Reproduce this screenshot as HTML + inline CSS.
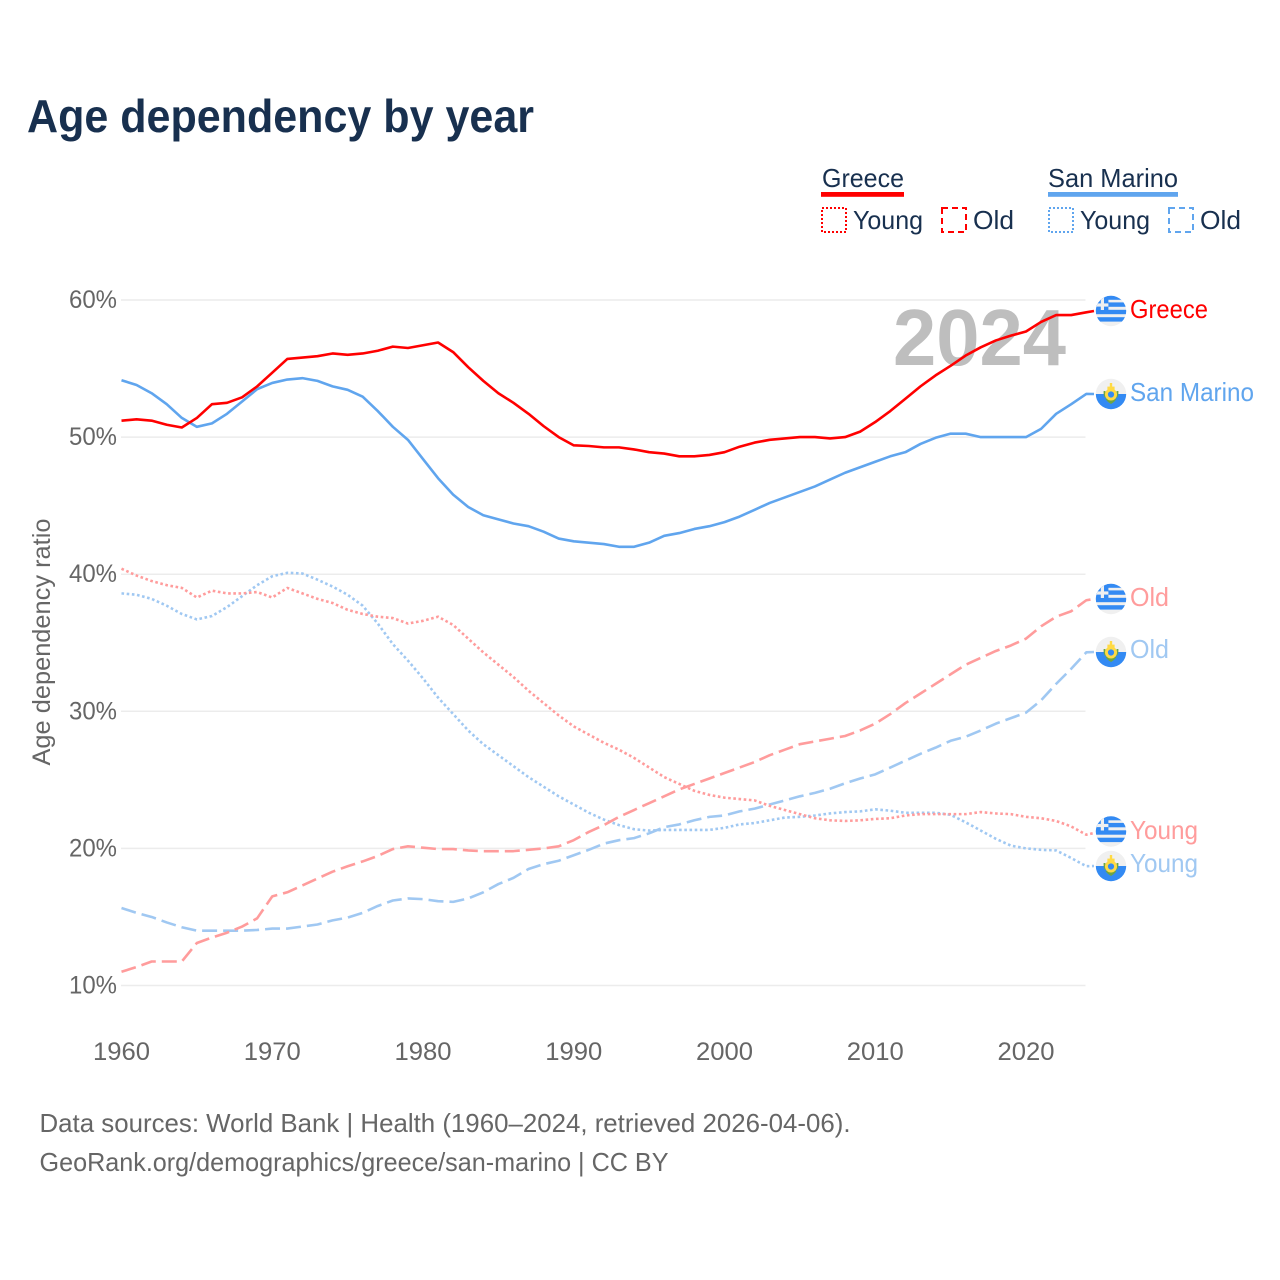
<!DOCTYPE html>
<html lang="en">
<head>
<meta charset="utf-8">
<title>Age dependency by year</title>
<style>
html,body{margin:0;padding:0;background:#fff;}
svg{display:block;font-family:"Liberation Sans",sans-serif;}
</style>
</head>
<body>
<svg id="chart" xmlns="http://www.w3.org/2000/svg" width="1280" height="1280" viewBox="0 0 1280 1280">
  <defs>
    <clipPath id="flag-clip"><circle cx="0" cy="0" r="15.2"/></clipPath>
    <g id="greece-flag" clip-path="url(#flag-clip)">
      <rect x="-16" y="-16" width="32" height="32" fill="#f0f0f0"/>
      <rect x="-16" y="-16" width="32" height="4.8" fill="#338af3"/>
      <rect x="-16" y="-8.6" width="32" height="4.4" fill="#338af3"/>
      <rect x="-16" y="-1.2" width="32" height="4.4" fill="#338af3"/>
      <rect x="-16" y="6.2" width="32" height="4.4" fill="#338af3"/>
      <rect x="-16" y="-16" width="13.4" height="15" fill="#338af3"/>
      <rect x="-10.2" y="-16" width="3.2" height="15" fill="#f0f0f0"/>
      <rect x="-16" y="-7.6" width="13.4" height="3.2" fill="#f0f0f0"/>
    </g>
    <g id="san-marino-flag" clip-path="url(#flag-clip)">
      <rect x="-16" y="-16" width="32" height="16" fill="#f0f0f0"/>
      <rect x="-16" y="0" width="32" height="16" fill="#338af3"/>
      <path d="M-7.4,-3 C-8,4 -3.5,8 0,10 C3.5,8 8,4 7.4,-3 L5.6,-3 L5.6,5 L-5.6,5 L-5.6,-3 Z" fill="#6da544"/>
      <circle cx="0" cy="0.5" r="6" fill="#ffda44"/>
      <circle cx="0" cy="0.5" r="3.1" fill="#338af3"/>
      <rect x="-3.6" y="-7.4" width="7.2" height="3.4" fill="#ffda44"/>
      <rect x="-1.2" y="-11" width="2.4" height="4" fill="#ffda44"/>
    </g>
  </defs>

  <rect x="0" y="0" width="1280" height="1280" fill="#ffffff"/>

  <text x="27" y="132" font-size="46" font-weight="700" fill="#18304f" textLength="507" lengthAdjust="spacingAndGlyphs">Age dependency by year</text>

  <g id="grid"></g>

  <text x="893" y="365" font-size="80" font-weight="700" fill="#bebebe" textLength="173" lengthAdjust="spacingAndGlyphs">2024</text>

  <g id="ticks" font-size="25" fill="#666666"></g>

  <text transform="translate(50,642) rotate(-90)" text-anchor="middle" font-size="25" fill="#666666" textLength="247" lengthAdjust="spacingAndGlyphs">Age dependency ratio</text>

  <g id="series"></g>

  <g>
    <g>
      <text x="822" y="187" font-size="26" fill="#18304f" textLength="82" lengthAdjust="spacingAndGlyphs">Greece</text>
      <rect x="821" y="192" width="83" height="4.8" fill="#ff0000"/>
      <rect x="822" y="208" width="24" height="24" fill="none" stroke="#ff0000" stroke-width="2" stroke-dasharray="2 2"/>
      <text x="853" y="229" font-size="26" fill="#18304f" textLength="70" lengthAdjust="spacingAndGlyphs">Young</text>
      <rect x="942" y="208" width="24" height="24" fill="none" stroke="#ff0000" stroke-width="2" stroke-dasharray="6 4"/>
      <text x="973" y="229" font-size="26" fill="#18304f" textLength="41" lengthAdjust="spacingAndGlyphs">Old</text>
    </g>
    <g>
      <text x="1048" y="187" font-size="26" fill="#18304f" textLength="130" lengthAdjust="spacingAndGlyphs">San Marino</text>
      <rect x="1048" y="192" width="130" height="4.8" fill="#60a5ee"/>
      <rect x="1049" y="208" width="24" height="24" fill="none" stroke="#60a5ee" stroke-width="2" stroke-dasharray="2 2"/>
      <text x="1080" y="229" font-size="26" fill="#18304f" textLength="70" lengthAdjust="spacingAndGlyphs">Young</text>
      <rect x="1169" y="208" width="24" height="24" fill="none" stroke="#60a5ee" stroke-width="2" stroke-dasharray="6 4"/>
      <text x="1200" y="229" font-size="26" fill="#18304f" textLength="41" lengthAdjust="spacingAndGlyphs">Old</text>
    </g>
  </g>

  <g font-size="26">
    <use href="#greece-flag" x="1111" y="311"/>
    <text x="1130" y="318" fill="#ff0000" textLength="78" lengthAdjust="spacingAndGlyphs">Greece</text>
    <use href="#san-marino-flag" x="1111" y="394"/>
    <text x="1130" y="401" fill="#60a5ee" textLength="124" lengthAdjust="spacingAndGlyphs">San Marino</text>
    <use href="#greece-flag" x="1111" y="599"/>
    <text x="1130" y="606" fill="#ff9c9c" textLength="39" lengthAdjust="spacingAndGlyphs">Old</text>
    <use href="#san-marino-flag" x="1111" y="652"/>
    <text x="1130" y="658" fill="#a0c8f2" textLength="39" lengthAdjust="spacingAndGlyphs">Old</text>
    <use href="#greece-flag" x="1111" y="831.5"/>
    <text x="1130" y="839" fill="#ff9c9c" textLength="68" lengthAdjust="spacingAndGlyphs">Young</text>
    <use href="#san-marino-flag" x="1111" y="866"/>
    <text x="1130" y="872" fill="#a0c8f2" textLength="68" lengthAdjust="spacingAndGlyphs">Young</text>
  </g>

  <g font-size="26" fill="#666666">
    <text x="39.5" y="1132" textLength="811" lengthAdjust="spacingAndGlyphs">Data sources: World Bank | Health (1960–2024, retrieved 2026-04-06).</text>
    <text x="39.5" y="1171" textLength="629" lengthAdjust="spacingAndGlyphs">GeoRank.org/demographics/greece/san-marino | CC BY</text>
  </g>
</svg>
<script>
const startYear = 1960;
const xTicks = [1960, 1970, 1980, 1990, 2000, 2010, 2020];
const yTicks = [10, 20, 30, 40, 50, 60];

const greeceTotal = [51.2,51.3,51.2,50.9,50.7,51.4,52.4,52.5,52.9,53.7,54.7,55.7,55.8,55.9,56.1,56.0,56.1,56.3,56.6,56.5,56.7,56.9,56.2,55.1,54.1,53.2,52.5,51.7,50.8,50.0,49.4,49.35,49.25,49.25,49.1,48.9,48.8,48.6,48.6,48.7,48.9,49.3,49.6,49.8,49.9,50.0,50.0,49.9,50.0,50.4,51.1,51.9,52.8,53.7,54.5,55.2,55.95,56.55,57.05,57.4,57.7,58.4,58.9,58.9,59.1];
const sanMarinoTotal = [54.15,53.8,53.2,52.4,51.4,50.75,51.0,51.7,52.6,53.5,53.95,54.2,54.3,54.1,53.7,53.45,52.95,51.9,50.75,49.8,48.4,47.0,45.8,44.9,44.3,44.0,43.7,43.5,43.1,42.6,42.4,42.3,42.2,42.0,42.0,42.3,42.8,43.0,43.3,43.5,43.8,44.2,44.7,45.2,45.6,46.0,46.4,46.9,47.4,47.8,48.2,48.6,48.9,49.5,49.95,50.25,50.25,50.0,50.0,50.0,50.0,50.6,51.7,52.4,53.15];
const greeceYoung = [40.4,39.9,39.5,39.2,39.0,38.3,38.8,38.6,38.6,38.7,38.3,39.0,38.6,38.2,37.9,37.4,37.1,36.9,36.8,36.4,36.6,36.9,36.3,35.3,34.3,33.4,32.5,31.5,30.6,29.7,28.9,28.3,27.7,27.2,26.6,25.9,25.2,24.7,24.2,23.9,23.7,23.6,23.5,23.1,22.8,22.5,22.2,22.05,22.0,22.05,22.15,22.2,22.4,22.5,22.5,22.5,22.5,22.65,22.55,22.5,22.3,22.2,22.0,21.6,21.0];
const greeceOld = [11.0,11.35,11.75,11.75,11.75,13.1,13.5,13.85,14.3,14.9,16.5,16.8,17.3,17.8,18.3,18.7,19.05,19.45,19.95,20.15,20.05,19.95,19.95,19.85,19.8,19.8,19.8,19.9,20.0,20.15,20.6,21.2,21.7,22.3,22.8,23.3,23.8,24.3,24.7,25.1,25.5,25.9,26.3,26.8,27.2,27.6,27.8,28.0,28.2,28.6,29.1,29.8,30.6,31.3,32.0,32.7,33.4,33.9,34.4,34.8,35.3,36.2,36.9,37.3,38.1];
const sanMarinoYoung = [38.6,38.5,38.2,37.7,37.1,36.7,36.95,37.6,38.4,39.2,39.85,40.1,40.05,39.6,39.1,38.5,37.7,36.4,34.9,33.7,32.4,31.0,29.8,28.6,27.6,26.8,26.0,25.2,24.5,23.8,23.2,22.6,22.1,21.7,21.4,21.3,21.35,21.35,21.35,21.35,21.5,21.75,21.85,22.05,22.25,22.3,22.4,22.55,22.65,22.7,22.85,22.75,22.6,22.6,22.6,22.45,21.9,21.3,20.7,20.2,20.0,19.9,19.85,19.3,18.7];
const sanMarinoOld = [15.65,15.3,15.0,14.6,14.25,14.0,14.0,14.0,14.0,14.05,14.15,14.15,14.3,14.45,14.75,14.95,15.3,15.8,16.2,16.35,16.3,16.15,16.1,16.35,16.8,17.4,17.85,18.5,18.85,19.1,19.5,19.9,20.35,20.6,20.75,21.1,21.55,21.75,22.05,22.3,22.4,22.7,22.9,23.2,23.5,23.8,24.05,24.35,24.75,25.1,25.4,25.9,26.4,26.9,27.35,27.85,28.15,28.6,29.1,29.5,29.9,30.8,32.0,33.1,34.3];

const SVGNS = 'http://www.w3.org/2000/svg';
function xScale(year) { return 121.5 + (year - 1960) * 15.075; }
function yScale(v) { return 985.5 - (v - 10) * 13.71; }

const gridG = document.getElementById('grid');
const ticksG = document.getElementById('ticks');
const seriesG = document.getElementById('series');

yTicks.forEach(function (t) {
  const line = document.createElementNS(SVGNS, 'line');
  
  
  line.setAttribute('x1', 121);
  line.setAttribute('x2', 1085.5);
  line.setAttribute('y1', yScale(t));
  line.setAttribute('y2', yScale(t));
  line.setAttribute('stroke', '#ececec');
  line.setAttribute('stroke-width', 1.5);
  gridG.appendChild(line);
  const label = document.createElementNS(SVGNS, 'text');
  
  
  label.setAttribute('x', 69);
  label.setAttribute('y', yScale(t) + 8);
  label.setAttribute('textLength', 48);
  label.setAttribute('lengthAdjust', 'spacingAndGlyphs');
  label.textContent = t + '%';
  ticksG.appendChild(label);
});

xTicks.forEach(function (t) {
  const label = document.createElementNS(SVGNS, 'text');
  
  
  label.setAttribute('x', xScale(t) - 28.5);
  label.setAttribute('y', 1060);
  label.setAttribute('textLength', 57);
  label.setAttribute('lengthAdjust', 'spacingAndGlyphs');
  label.textContent = t;
  ticksG.appendChild(label);
});

function drawSeries(name, values, color, dash, labelY) {
  let d = '';
  values.forEach(function (v, i) {
    d += (i ? 'L' : 'M') + xScale(startYear + i).toFixed(2) + ',' + yScale(v).toFixed(2);
  });
  const path = document.createElementNS(SVGNS, 'path');
  
  
  path.setAttribute('d', d + 'L1094,' + labelY);
  path.setAttribute('fill', 'none');
  path.setAttribute('stroke', color);
  path.setAttribute('stroke-width', 2.6);
  path.setAttribute('stroke-linejoin', 'round');
  if (dash) path.setAttribute('stroke-dasharray', dash);
  seriesG.appendChild(path);
}

drawSeries('san-marino-young', sanMarinoYoung, '#a0c8f2', '2.6 2.6', 866);
drawSeries('san-marino-old', sanMarinoOld, '#a0c8f2', '15 6', 652);
drawSeries('greece-young', greeceYoung, '#ff9c9c', '2.6 2.6', 833);
drawSeries('greece-old', greeceOld, '#ff9c9c', '15 6', 599);
drawSeries('san-marino-total', sanMarinoTotal, '#60a5ee', '', 394);
drawSeries('greece-total', greeceTotal, '#ff0000', '', 311);
</script>
</body>
</html>
